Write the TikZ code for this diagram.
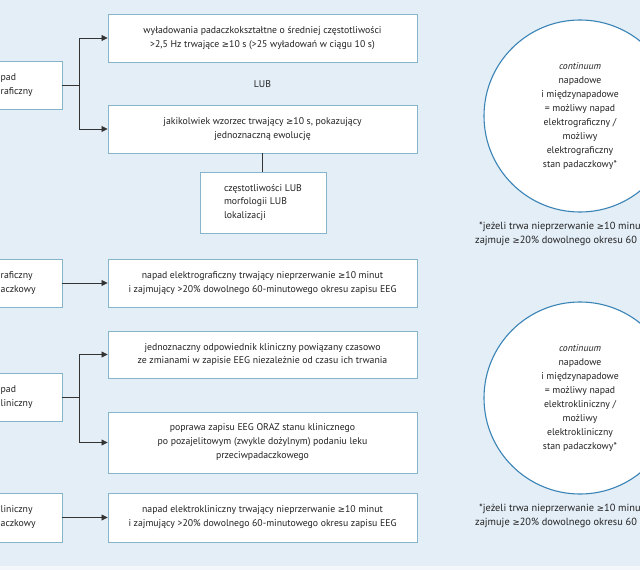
\documentclass[tikz,border=0pt]{standalone}
\usepackage{fontspec}
\setmainfont{PT Sans}
\newfontfamily\symf{DejaVu Sans}
\newcommand{\gesym}{{\symf\fontsize{8.7}{14}\selectfont ≥}}
\usetikzlibrary{arrows.meta}
\definecolor{bg}{HTML}{E4EEF7}
\definecolor{bgstrip}{HTML}{F3F7FB}
\definecolor{boxc}{HTML}{86B4CB}
\definecolor{circc}{HTML}{3A84B6}
\definecolor{txt}{HTML}{222222}
\definecolor{linec}{HTML}{333333}
\tikzset{
  box/.style={draw=boxc, fill=white, line width=0.9bp, align=center, inner sep=0pt, text=txt},
  ltext/.style={align=left, inner sep=0pt, text=txt, anchor=west},
  circ/.style={circle, draw=circc, fill=white, line width=1.1bp, align=center, inner sep=0pt, text=txt, minimum size=192bp},
  note/.style={inner sep=0pt, text=txt, anchor=west, font=\fontsize{10.4}{14}\selectfont},
  conn/.style={draw=linec, line width=0.8bp},
  arr/.style={conn, -{Triangle[length=6bp,width=6bp]}}
}
\begin{document}
\begin{tikzpicture}[x=1bp,y=-1bp,font=\fontsize{9.8}{14}\selectfont]
\useasboundingbox (0,0) rectangle (640,570);
\clip (0,0) rectangle (640,570);
\fill[bg] (0,0) rectangle (640,566);
\fill[bgstrip] (0,566) rectangle (640,570);

% left boxes (cut by the left edge)
\node[box, minimum width=132bp, minimum height=48bp] (L1) at (-4,85) {};
\node[ltext] (L1t) at (0.5,85) {pad\\raficzny};
\node[box, minimum width=132bp, minimum height=48bp] (L2) at (-4,283) {};
\node[ltext] (L2t) at (0.5,283) {raficzny\\aczkowy};
\node[box, minimum width=132bp, minimum height=48bp] (L3) at (-4,397) {};
\node[ltext] (L3t) at (0.5,397) {pad\\liniczny};
\node[box, minimum width=132bp, minimum height=49bp] (L4) at (-4,517.5) {};
\node[ltext] (L4t) at (0.5,517.5) {liniczny\\aczkowy};

% right boxes
\node[box, minimum width=309bp, minimum height=48bp] (B1) at (262.5,38)
  {wyładowania padaczkokształtne o średniej częstotliwości\\>2,5 Hz trwające \gesym10 s (>25 wyładowań w ciągu 10 s)};
\node[text=txt, inner sep=0pt] (LUB) at (262.5,84) {LUB};
\node[box, minimum width=309bp, minimum height=48bp] (B2) at (262.5,129)
  {jakikolwiek wzorzec trwający \gesym10 s, pokazujący\\jednoznaczną ewolucję};
\node[box, align=left, minimum width=126bp, minimum height=61bp] (B3) at (263,202.5)
  {częstotliwości LUB\\morfologii LUB\\lokalizacji};
\node[box, minimum width=309bp, minimum height=48bp] (B4) at (262.5,283)
  {napad elektrograficzny trwający nieprzerwanie \gesym10 minut\\i zajmujący >20\% dowolnego 60-minutowego okresu zapisu EEG};
\node[box, minimum width=309bp, minimum height=47bp] (B5) at (262.5,354.5)
  {jednoznaczny odpowiednik kliniczny powiązany czasowo\\ze zmianami w zapisie EEG niezależnie od czasu ich trwania};
\node[box, minimum width=309bp, minimum height=61bp] (B6) at (262.5,442.5)
  {poprawa zapisu EEG ORAZ stanu klinicznego\\po pozajelitowym (zwykle dożylnym) podaniu leku\\przeciwpadaczkowego};
\node[box, minimum width=309bp, minimum height=49bp] (B7) at (262.5,517.5)
  {napad elektrokliniczny trwający nieprzerwanie \gesym10 minut\\i zajmujący >20\% dowolnego 60-minutowego okresu zapisu EEG};

% connectors
\draw[conn] (L1.east) -- ++(17,0) coordinate (J1);
\draw[arr] (J1) |- (B1.west);
\draw[arr] (J1) |- (B2.west);
\draw[conn] (B2.south) -- (B2.south |- B3.north);
\draw[arr] (L2.east) -- (B4.west);
\draw[conn] (L3.east) -- ++(17,0) coordinate (J2);
\draw[arr] (J2) |- (B5.west);
\draw[arr] (J2) |- (B6.west);
\draw[arr] (L4.east) -- (B7.west);

% circles
\node[circ] (C1) at (580,116)
  {\textit{continuum}\\napadowe\\i międzynapadowe\\= możliwy napad\\elektrograficzny /\\możliwy\\elektrograficzny\\stan padaczkowy*};
\node[note] (F1a) at (479,227) {*jeżeli trwa nieprzerwanie \gesym10 minu};
\node[note] (F1b) at (475,241) {zajmuje \gesym20\% dowolnego okresu 60};
\node[circ] (C2) at (580,398)
  {\textit{continuum}\\napadowe\\i międzynapadowe\\= możliwy napad\\elektrokliniczny /\\możliwy\\elektrokliniczny\\stan padaczkowy*};
\node[note] (F2a) at (479,509) {*jeżeli trwa nieprzerwanie \gesym10 minu};
\node[note] (F2b) at (475,523) {zajmuje \gesym20\% dowolnego okresu 60};
\end{tikzpicture}
\end{document}
